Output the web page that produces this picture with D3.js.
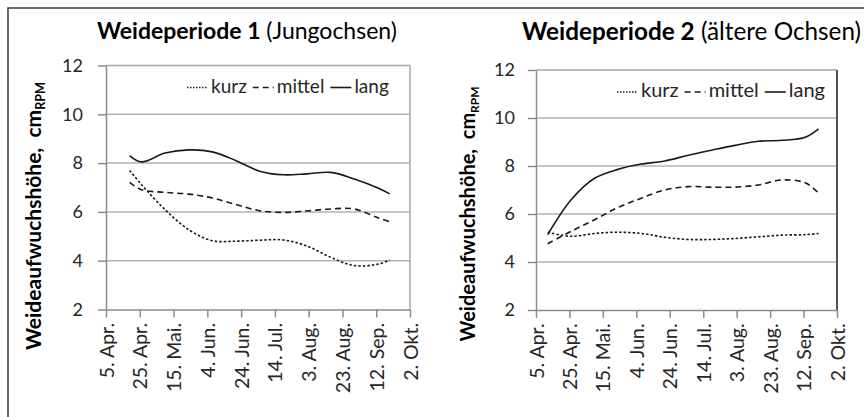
<!DOCTYPE html>
<html>
<head>
<meta charset="utf-8">
<script src="https://cdn.jsdelivr.net/npm/d3@7"></script>
<style>
  body { margin: 0; background: #fff; }
  svg  { display: block; font-family: Lato, "Open Sans", sans-serif; }
</style>
</head>
<body>
<svg id="chart" width="864" height="417"></svg>
<script>
// x axis ticks (every 20 days)
const tickDates  = ["2010-04-05", "2010-04-25", "2010-05-15", "2010-06-04", "2010-06-24",
                    "2010-07-14", "2010-08-03", "2010-08-23", "2010-09-12", "2010-10-02"];
const tickLabels = ["5. Apr.", "25. Apr.", "15. Mai.", "4. Jun.", "24. Jun.",
                    "14. Jul.", "3. Aug.", "23. Aug.", "12. Sep.", "2. Okt."];
const yTicks     = [2, 4, 6, 8, 10, 12];
const seriesNames = ["kurz", "mittel", "lang"];

// Weideperiode 1 (Jungochsen)
const p1Dates  = ["2010-04-19", "2010-04-26", "2010-05-10", "2010-05-24", "2010-06-07", "2010-06-21", "2010-07-05",
                  "2010-07-19", "2010-08-02", "2010-08-16", "2010-08-30", "2010-09-13", "2010-09-20"];
const p1Kurz   = [7.70, 7.12, 6.09, 5.27, 4.82, 4.80, 4.84, 4.85, 4.60, 4.14, 3.80, 3.86, 4.03];
const p1Mittel = [7.21, 6.91, 6.80, 6.73, 6.57, 6.30, 6.05, 5.98, 6.04, 6.12, 6.12, 5.76, 5.60];
const p1Lang   = [8.31, 8.05, 8.41, 8.54, 8.46, 8.10, 7.67, 7.52, 7.56, 7.62, 7.35, 6.98, 6.74];

// Weideperiode 2 (ältere Ochsen)
const p2Dates  = ["2010-04-12", "2010-04-26", "2010-05-10", "2010-05-24", "2010-06-07", "2010-06-21", "2010-07-05",
                  "2010-07-19", "2010-08-02", "2010-08-16", "2010-08-30", "2010-09-13", "2010-09-21"];
const p2Kurz   = [5.24, 5.07, 5.19, 5.24, 5.19, 5.03, 4.94, 4.94, 4.98, 5.05, 5.12, 5.14, 5.19];
const p2Mittel = [4.76, 5.28, 5.76, 6.27, 6.66, 7.00, 7.14, 7.12, 7.12, 7.21, 7.42, 7.30, 6.87];
const p2Lang   = [5.14, 6.59, 7.49, 7.86, 8.08, 8.21, 8.45, 8.66, 8.86, 9.03, 9.07, 9.20, 9.55];

const parse = d3.utcParse("%Y-%m-%d");
const svg   = d3.select("#chart");
const ink   = "#1a1a1a";
const dashes = {kurz: "2.5,2", mittel: "6,4", lang: null};

// outer frame (top + left only)
svg.append("path").attr("d", "M8,417V8H864").attr("fill", "none").attr("stroke", "#3a3a3a").attr("stroke-width", 1.5);

const panels = [
  {bold: "Weideperiode 1", rest: " (Jungochsen)", dates: p1Dates, values: [p1Kurz, p1Mittel, p1Lang],
   left: 106, right: 410, top: 65.5, bottom: 309.5, titleX: 97, titleY: 39, titleSize: 23,
   labelX: 41, labelY: 216, labelSize: 21, yPad: 15, legendSize: 19, frame: "#a6a6a6"},
  {bold: "Weideperiode 2", rest: " (ältere Ochsen)", dates: p2Dates, values: [p2Kurz, p2Mittel, p2Lang],
   left: 536, right: 837, top: 70, bottom: 310, titleX: 522, titleY: 40, titleSize: 24.3,
   labelX: 475, labelY: 214, labelSize: 20, yPad: 13, legendSize: 20, frame: "#1a1a1a"}
];

panels.forEach(drawPanel);

function drawPanel(cfg) {
  const x = d3.scaleUtc()
    .domain([parse(tickDates[0]), parse(tickDates[tickDates.length - 1])])
    .range([cfg.left, cfg.right]);
  const y = d3.scaleLinear().domain([2, 12]).range([cfg.bottom, cfg.top]);
  const g = svg.append("g");

  // gridlines
  g.append("g").selectAll("line")
    .data(yTicks.slice(1, -1))
    .join("line")
      .attr("x1", cfg.left).attr("x2", cfg.right)
      .attr("y1", d => y(d)).attr("y2", d => y(d))
      .attr("stroke", "#b3b3b3").attr("stroke-width", 1.5);

  g.append("line")
    .attr("x1", cfg.left).attr("x2", cfg.right)
    .attr("y1", y(12)).attr("y2", y(12))
    .attr("stroke", "#a6a6a6").attr("stroke-width", 1.5);
  g.append("line")
    .attr("x1", cfg.right).attr("x2", cfg.right)
    .attr("y1", y(12)).attr("y2", y(2))
    .attr("stroke", cfg.frame).attr("stroke-width", 1.5);

  // axes
  const yAxis = g.append("g")
    .attr("transform", `translate(${cfg.left},0)`)
    .call(d3.axisLeft(y).tickValues(yTicks).tickSize(8).tickPadding(cfg.yPad).tickSizeOuter(0));
  const xAxis = g.append("g")
    .attr("transform", `translate(0,${cfg.bottom})`)
    .call(d3.axisBottom(x).tickValues(tickDates.map(parse))
      .tickFormat((d, i) => tickLabels[i]).tickSize(8).tickSizeOuter(0));

  [yAxis, xAxis].forEach(a => {
    a.select(".domain").attr("stroke", "#8c8c8c").attr("stroke-width", 1.5);
    a.selectAll(".tick line").attr("stroke", "#8c8c8c").attr("stroke-width", 1.5);
    a.selectAll("text").attr("fill", "#262626").style("font-size", "18px").style("font-family", "Lato");
  });
  xAxis.selectAll("text")
    .style("font-size", "19.5px")
    .attr("transform", "rotate(-90)")
    .attr("x", -13.5).attr("y", 0).attr("dy", "0.36em")
    .style("text-anchor", "end");

  // series
  const line = d3.line()
    .x(d => x(d.date)).y(d => y(d.v))
    .curve(d3.curveCatmullRom.alpha(0.5));
  const dates = cfg.dates.map(parse);
  seriesNames.forEach((name, k) => {
    const pts = dates.map((date, i) => ({date, v: cfg.values[k][i]}));
    g.append("path")
      .datum(pts)
      .attr("d", line)
      .attr("fill", "none")
      .attr("stroke", ink)
      .attr("stroke-width", 1.6)
      .attr("stroke-dasharray", dashes[name]);
  });

  // legend
  const leg = g.append("g").attr("transform", `translate(${cfg.left + 81},${cfg.top + 27})`);
  let cx = 0;
  seriesNames.forEach(name => {
    leg.append("line")
      .attr("x1", cx).attr("x2", cx + 21).attr("y1", -5).attr("y2", -5)
      .attr("stroke", ink).attr("stroke-width", 1.6)
      .attr("stroke-dasharray", name === "kurz" ? "1.5,1.5" : dashes[name]);
    const t = leg.append("text")
      .attr("x", cx + 24).attr("y", 0)
      .attr("fill", "#262626").style("font-size", cfg.legendSize + "px")
      .text(name);
    cx += 24 + t.node().getComputedTextLength() + 6;
  });

  // title
  const title = g.append("text")
    .attr("x", cfg.titleX).attr("y", cfg.titleY)
    .attr("fill", "#000").style("font-size", cfg.titleSize + "px");
  title.append("tspan").style("font-weight", "bold").text(cfg.bold);
  title.append("tspan").text(cfg.rest);

  // y label
  const lab = g.append("text")
    .attr("transform", `translate(${cfg.labelX},${cfg.labelY}) rotate(-90)`)
    .attr("text-anchor", "middle")
    .attr("fill", "#000").style("font-size", cfg.labelSize + "px").style("font-weight", "bold");
  lab.append("tspan").text("Weideaufwuchshöhe,\u00a0\u00a0cm");
  lab.append("tspan").attr("dy", "0.3em").style("font-size", "0.6em").text("RPM");
}
</script>
</body>
</html>
